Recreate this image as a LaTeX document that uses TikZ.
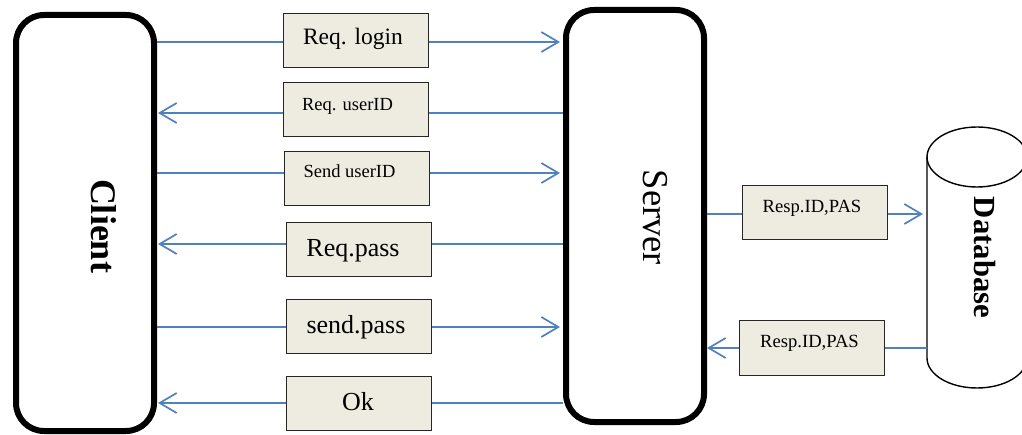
\documentclass[tikz,border=0pt]{standalone}
\usepackage{fontspec}
\setmainfont{Liberation Serif}
\usetikzlibrary{arrows.meta}
\definecolor{flowblue}{HTML}{4F81BD}
\definecolor{msgfill}{HTML}{EEECE1}
\begin{document}
\begin{tikzpicture}[x=1pt,y=-1pt,
  party/.style={draw, line width=6pt, rounded corners=28pt, minimum width=138pt, inner sep=0pt},
  msg/.style={draw=black!85, line width=1pt, fill=msgfill, minimum width=145pt, minimum height=54pt, inner sep=0pt},
  flow/.style={draw=flowblue, line width=1.7pt},
  flowto/.style={flow, -{Straight Barb[length=17pt,width=20pt]}},
  txtbig/.style={anchor=base, font=\fontsize{26}{30}\selectfont},
  txtmid/.style={anchor=base, font=\fontsize{23.5}{28}\selectfont},
  txtsmall/.style={anchor=base, font=\fontsize{18.5}{22}\selectfont},
  title/.style={anchor=base, rotate=-90},
  dbline/.style={line width=1.4pt}
]
\useasboundingbox (0,0) rectangle (1022,435);

% the two parties
\node[party, minimum height=416pt] (client) at (85,223) {};
\node[party, minimum height=412pt] (server) at (635,216) {};
\node[title, font=\bfseries\fontsize{36}{40}\selectfont] (clientlabel) at (91,226) {Client};
\node[title, font=\fontsize{36.5}{40}\selectfont] (serverlabel) at (643,217.5) {Server};

% database cylinder
\node[minimum width=100pt, minimum height=201pt, inner sep=0pt, outer sep=0pt] (db) at (977,257.5) {};
\draw[dbline] (db.north west) -- (db.south west)
  arc[start angle=180, end angle=0, x radius=50, y radius=30] -- (db.north east);
\draw[dbline] (db.north) ellipse [x radius=50, y radius=30];
\node[title, font=\bfseries\fontsize{30.7}{34}\selectfont] (dblabel) at (974,257.5) {Database};

% message boxes
\node[msg] (b1) at (355.5,41) {};
\node[msg] (b2) at (355.5,110) {};
\node[msg] (b3) at (356.5,179) {};
\node[msg] (b4) at (358.5,250) {};
\node[msg] (b5) at (358.5,326.5) {};
\node[msg] (b6) at (358.5,403) {};
\node[msg] (r1) at (814.5,213) {};
\node[msg] (r2) at (811.5,348) {};

\node[txtmid] (t1) at (353,45) {Req. login};
\node[txtsmall] (t2) at (347.5,111) {Req. userID};
\node[txtsmall] (t3) at (349.5,178) {Send userID};
\node[txtbig] (t4) at (353,257) {Req.pass};
\node[txtbig] (t5) at (356,334) {send.pass};
\node[txtbig] (t6) at (358,410) {Ok};
\node[txtsmall, font=\fontsize{18.6}{22}\selectfont] (rt1) at (812,213) {Resp.ID,PAS};
\node[txtsmall, font=\fontsize{18.6}{22}\selectfont] (rt2) at (809.5,348) {Resp.ID,PAS};

% line heights of the connectors through each box
\path ([yshift=-1pt]b1.west) coordinate (w1) ([yshift=-1pt]b1.east) coordinate (e1)
      ([yshift=-3pt]b2.west) coordinate (w2) ([yshift=-3pt]b2.east) coordinate (e2)
      ([yshift=6pt]b3.west) coordinate (w3) ([yshift=6pt]b3.east) coordinate (e3)
      ([yshift=6pt]b4.west) coordinate (w4) ([yshift=6pt]b4.east) coordinate (e4)
      ([yshift=-0.5pt]b5.west) coordinate (w5) ([yshift=-0.5pt]b5.east) coordinate (e5)
      (b6.west) coordinate (w6) (b6.east) coordinate (e6)
      ([yshift=-1pt]r1.west) coordinate (rw1) ([yshift=-1pt]r1.east) coordinate (re1)
      (r2.west) coordinate (rw2) (r2.east) coordinate (re2);

% client -> server
\draw[flow] (client.east |- w1) -- (w1);
\draw[flowto, shorten >=3pt] (e1) -- (server.west |- e1);
\draw[flow] (client.east |- w3) -- (w3);
\draw[flowto, shorten >=3pt] (e3) -- (server.west |- e3);
\draw[flow] (client.east |- w5) -- (w5);
\draw[flowto, shorten >=3pt] (e5) -- (server.west |- e5);

% server -> client
\draw[flow] (server.west |- e2) -- (e2);
\draw[flowto, shorten >=1pt] (w2) -- (client.east |- w2);
\draw[flow] (server.west |- e4) -- (e4);
\draw[flowto, shorten >=1pt] (w4) -- (client.east |- w4);
\draw[flow] (server.west |- e6) -- (e6);
\draw[flowto, shorten >=1pt] (w6) -- (client.east |- w6);

% server <-> database
\draw[flow] (server.east |- rw1) -- (rw1);
\draw[flowto, shorten >=4pt] (re1) -- (db.west |- re1);
\draw[flow] (db.west |- re2) -- (re2);
\draw[flowto] (rw2) -- (server.east |- rw2);
\end{tikzpicture}
\end{document}
